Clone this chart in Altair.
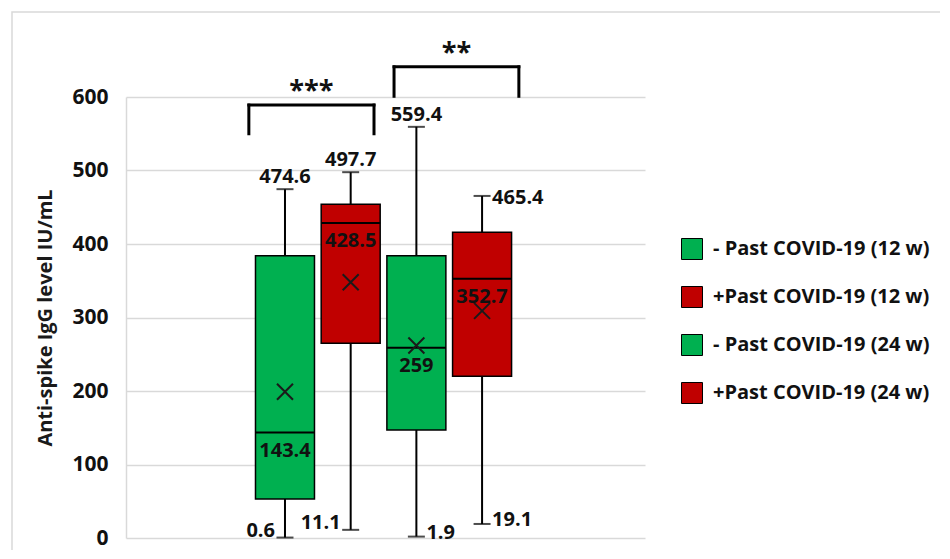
import altair as alt
import pandas as pd

# ---- data ----
groups = ["- Past COVID-19 (12 w)", "+Past COVID-19 (12 w)",
          "- Past COVID-19 (24 w)", "+Past COVID-19 (24 w)"]
positions = [1, 2, 3, 4]
colors = ["#00B050", "#C00000", "#00B050", "#C00000"]
mins = [0.6, 11.1, 1.9, 19.1]
q1s = [53, 265, 147, 220]
medians = [143.4, 428.5, 259, 352.7]
q3s = [384, 454, 384, 416]
maxs = [474.6, 497.7, 559.4, 465.4]
means = [199, 348, 262, 309]
top_label_side = ["center", "center", "center", "right"]
bottom_label_side = ["left", "left", "right", "right"]

bracket_starts = [0.45, 2.66]
bracket_ends = [2.355, 4.56]
bracket_tops = [589, 641]
bracket_bottoms = [550, 601]
bracket_stars = ["***", "**"]

y_ticks = [0, 100, 200, 300, 400, 500, 600]

# ---- tables ----
box = pd.DataFrame({
    "group": groups, "pos": positions, "lo": mins, "q1": q1s, "med": medians,
    "q3": q3s, "hi": maxs, "mean": means,
    "top_side": top_label_side, "bottom_side": bottom_label_side,
})
box["lo_txt"] = [f"{v:g}" for v in mins]
box["hi_txt"] = [f"{v:g}" for v in maxs]
box["med_txt"] = [f"{v:g}" for v in medians]

brk = pd.DataFrame({"xs": bracket_starts, "xe": bracket_ends,
                    "top": bracket_tops, "bottom": bracket_bottoms,
                    "stars": bracket_stars})

FONT = "Open Sans"
INK = "#111111"
HALF = 0.449

xs = alt.Scale(domain=[-1.42, 6.48], nice=False, zero=False)
ys = alt.Scale(domain=[0, 600], nice=False, zero=True)

base = alt.Chart(box).transform_calculate(
    x_lo=f"datum.pos - {HALF}", x_hi=f"datum.pos + {HALF}"
)

frame = alt.Chart(pd.DataFrame({"a": [0]})).mark_rect(
    fill=None, stroke="#d9d9d9", strokeWidth=1.5
).encode(x=alt.value(-114), x2=alt.value(900), y=alt.value(-85), y2=alt.value(600))

whisk = base.mark_rule(color="black", strokeWidth=2).encode(
    x=alt.X("pos:Q", scale=xs, axis=None),
    y=alt.Y("lo:Q", scale=ys,
            axis=alt.Axis(values=y_ticks, title="Anti-spike IgG level IU/mL")),
    y2="hi:Q",
)

caps = base.transform_fold(["lo", "hi"], as_=["k", "v"]).mark_tick(
    orient="horizontal", size=17, thickness=2, color="black"
).encode(x=alt.X("pos:Q", scale=xs), y=alt.Y("v:Q", scale=ys))

boxes = base.mark_rect(stroke="black", strokeWidth=1.5, opacity=1).encode(
    x=alt.X("x_lo:Q", scale=xs), x2="x_hi:Q",
    y=alt.Y("q1:Q", scale=ys), y2="q3:Q",
    color=alt.Color("group:N",
                    scale=alt.Scale(domain=groups, range=colors),
                    legend=alt.Legend(title=None, orient="none",
                                      legendX=555, legendY=141)),
)

med_line = base.mark_rule(color="black", strokeWidth=2).encode(
    x=alt.X("x_lo:Q", scale=xs), x2="x_hi:Q", y=alt.Y("med:Q", scale=ys)
)

mean_pt = base.mark_point(
    shape="M-1,-1L1,1M1,-1L-1,1", size=256, strokeWidth=2,
    color="#1a1a1a", filled=False, opacity=1
).encode(x=alt.X("pos:Q", scale=xs), y=alt.Y("mean:Q", scale=ys))

txt = dict(font=FONT, fontWeight="bold", fontSize=20, color=INK)

med_lab = base.mark_text(baseline="top", dy=8, **txt).encode(
    x=alt.X("pos:Q", scale=xs), y=alt.Y("med:Q", scale=ys), text="med_txt:N"
)

top_c = base.transform_filter("datum.top_side == 'center'").mark_text(
    baseline="alphabetic", dy=-6, **txt
).encode(x=alt.X("pos:Q", scale=xs), y=alt.Y("hi:Q", scale=ys), text="hi_txt:N")

top_r = base.transform_filter("datum.top_side == 'right'").mark_text(
    align="left", baseline="middle", dx=10, dy=2, **txt
).encode(x=alt.X("pos:Q", scale=xs), y=alt.Y("hi:Q", scale=ys), text="hi_txt:N")

bot_l = base.transform_filter("datum.bottom_side == 'left'").mark_text(
    align="right", baseline="middle", dx=-10, dy=-7, **txt
).encode(x=alt.X("pos:Q", scale=xs), y=alt.Y("lo:Q", scale=ys), text="lo_txt:N")

bot_r = base.transform_filter("datum.bottom_side == 'right'").mark_text(
    align="left", baseline="middle", dx=10, dy=-4, **txt
).encode(x=alt.X("pos:Q", scale=xs), y=alt.Y("lo:Q", scale=ys), text="lo_txt:N")

bbase = alt.Chart(brk)
b_h = bbase.mark_rule(color="black", strokeWidth=3, strokeCap="square").encode(
    x=alt.X("xs:Q", scale=xs), x2="xe:Q", y=alt.Y("top:Q", scale=ys)
)
b_l = bbase.mark_rule(color="black", strokeWidth=3, strokeCap="square").encode(
    x=alt.X("xs:Q", scale=xs), y=alt.Y("bottom:Q", scale=ys), y2="top:Q"
)
b_r = bbase.mark_rule(color="black", strokeWidth=3, strokeCap="square").encode(
    x=alt.X("xe:Q", scale=xs), y=alt.Y("bottom:Q", scale=ys), y2="top:Q"
)
b_t = bbase.transform_calculate(mid="(datum.xs + datum.xe) / 2").mark_text(
    baseline="alphabetic", dy=-6, font=FONT, fontWeight="bold", fontSize=27,
    color=INK
).encode(x=alt.X("mid:Q", scale=xs), y=alt.Y("top:Q", scale=ys), text="stars:N")

chart = alt.layer(
    frame, whisk, caps, boxes, med_line, mean_pt, med_lab, top_c, top_r,
    bot_l, bot_r, b_h, b_l, b_r, b_t
).properties(
    width=519, height=441,
    autosize=alt.AutoSizeParams(type="none"),
    padding={"left": 118, "top": 89, "right": 295, "bottom": 12},
).configure_view(stroke=None).configure_axis(
    grid=True, gridColor="#d9d9d9", gridWidth=1.5,
    domain=True, domainColor="#d9d9d9", domainWidth=1.5,
    ticks=False, tickSize=0, labelPadding=18,
    labelFont=FONT, labelFontWeight="bold", labelFontSize=21, labelColor=INK,
    titleFont=FONT, titleFontWeight="bold", titleFontSize=20, titleColor="#1a1a1a",
    titlePadding=16,
).configure_legend(
    symbolType="square", symbolSize=441, symbolStrokeColor="black",
    symbolStrokeWidth=1, symbolOpacity=1, labelFont=FONT, labelFontWeight="bold",
    labelFontSize=20, labelColor=INK, labelOffset=10, rowPadding=22, padding=0,
    labelLimit=400,
)

chart.save("out.html", embed_options={"renderer": "svg", "actions": False})
